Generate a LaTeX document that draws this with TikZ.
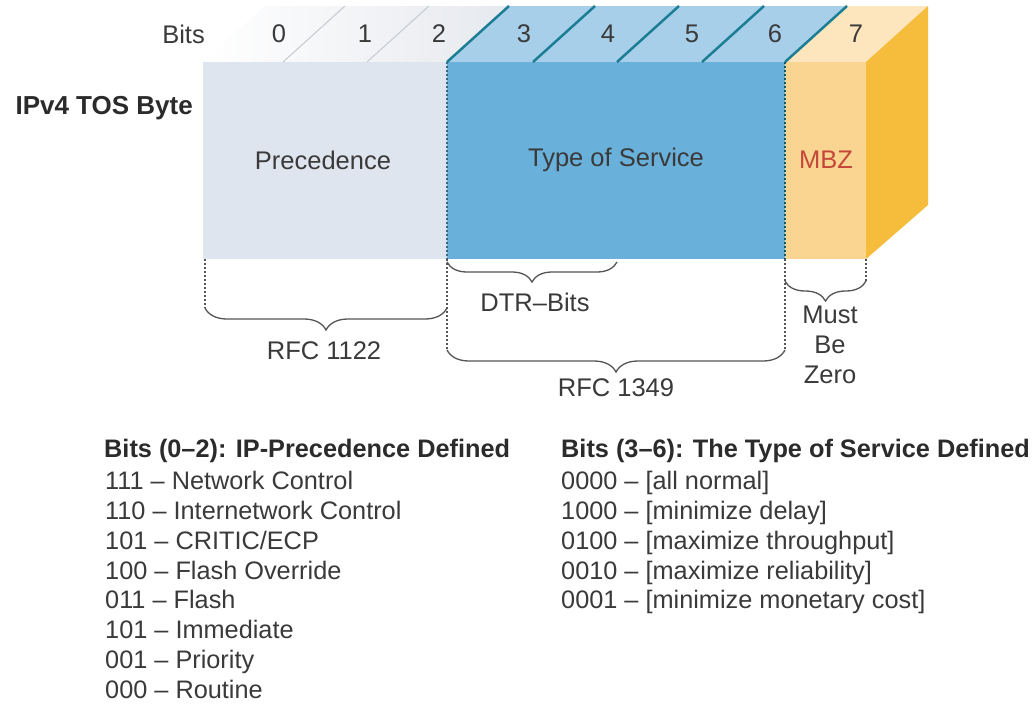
\documentclass[tikz,border=0pt]{standalone}
\usepackage{fontspec}
\setmainfont{Liberation Sans}
\usetikzlibrary{decorations.pathreplacing}
\definecolor{txt}{HTML}{3A3A3A}
\definecolor{hdr}{HTML}{2B2B2B}
\definecolor{topgray}{HTML}{E6E9EE}
\definecolor{frontgray}{HTML}{DFE5EE}
\definecolor{topblue}{HTML}{A8CFE9}
\definecolor{frontblue}{HTML}{69B0DA}
\definecolor{teal}{HTML}{1B7E95}
\definecolor{toporange}{HTML}{FDE5BD}
\definecolor{frontorange}{HTML}{F9D591}
\definecolor{sideorange}{HTML}{F6BC3C}
\definecolor{mbzred}{HTML}{C4473A}
\definecolor{divgray}{HTML}{C5CAD1}
\definecolor{bracegray}{HTML}{555555}
\begin{document}
\begin{tikzpicture}[x=1pt,y=-1pt,
  lbl/.style={font=\fontsize{25.5}{30}\selectfont, text=txt, inner sep=0pt},
  hd/.style={font=\fontsize{25.3}{30}\selectfont\bfseries, text=hdr, inner sep=0pt, anchor=base west},
  item/.style={font=\fontsize{25.3}{30}\selectfont, text=txt, inner sep=0pt, anchor=base west},
  dots/.style={bracegray, line width=1.6pt, dash pattern=on 2pt off 2pt},
  bracedraw/.style={bracegray, line width=1.3pt, decorate, decoration={brace, mirror, amplitude=#1}},
  tealdiv/.style={teal, line width=2.5pt},
  graydiv/.style={divgray, line width=1pt}
]
\useasboundingbox (0,0) rectangle (1035,704);
\fill[white] (0,0) rectangle (1035,704);
% key coordinates
\coordinate (f0) at (203,62);
\coordinate (f3) at (447,62);
\coordinate (f7) at (785,62);
\coordinate (f8) at (866,62);
% top faces
\shade[left color=white, right color=topgray] (203,62) -- (447,62) -- (509,6) -- (265,6) -- cycle;
\fill[topblue] (447,62) -- (785,62) -- (847,6) -- (509,6) -- cycle;
\fill[toporange] (785,62) -- (866,62) -- (928,6) -- (847,6) -- cycle;
% side face
\fill[sideorange] (866,62) -- (928,6) -- (928,205) -- (866,259) -- cycle;
% front faces
\fill[frontgray] (203,62) rectangle (447,259);
\fill[frontblue] (447,62) rectangle (785,259);
\fill[frontorange] (785,62) rectangle (866,259);
% top dividers
\draw[graydiv] (283,62) -- (345,6);
\draw[graydiv] (367,62) -- (429,6);
\foreach \x in {447,533,617,702,785} \draw[tealdiv] (\x,62) -- ({\x+62},6);
% dotted separators on face
\draw[line width=1.8pt, dash pattern=on 2pt off 2pt, color={rgb,255:red,60;green,105;blue,135}] (447,62) -- (447,259);
\draw[line width=2.2pt, dash pattern=on 2pt off 2pt, color={rgb,255:red,15;green,90;blue,110}] (785,62) -- (785,259);
% dotted leaders below
\draw[dots] (205,259) -- (205,308);
\draw[dots] (447,259) -- (447,350);
\draw[dots] (785,259) -- (785,350);
\draw[dots] (866,259) -- (866,281);
% braces
\draw[bracedraw=22pt] (205,308) -- (447,308);
\draw[bracedraw=20pt] (447,262) -- (617,262);
\draw[bracedraw=22pt] (447,350) -- (785,350);
\draw[bracedraw=20pt] (785,281) -- (866,281);
% bit labels
\node[lbl, anchor=east] (bits) at (205,34) {Bits};
\node[lbl] (b0) at (279,34) {0};
\node[lbl] (b1) at (365,34) {1};
\node[lbl] (b2) at (439,34) {2};
\node[lbl] (b3) at (524,34) {3};
\node[lbl] (b4) at (608,34) {4};
\node[lbl] (b5) at (692,34) {5};
\node[lbl] (b6) at (775,34) {6};
\node[lbl] (b7) at (856,34) {7};
\node[lbl, font=\fontsize{26}{30}\selectfont\bfseries, text=hdr, anchor=east] (tos) at (193,108) {IPv4 TOS Byte};
\node[lbl] (prec) at (323,160) {Precedence};
\node[lbl] (tserv) at (616,160) {Type of Service};
\node[lbl, text=mbzred] (mbz) at (826,160) {MBZ};
\node[lbl] (dtr) at (535,302) {DTR–Bits};
\node[lbl] (rfc1) at (324,351) {RFC 1122};
\node[lbl] (rfc2) at (616,388) {RFC 1349};
\node[lbl] (must) at (830,315) {Must};
\node[lbl] (be) at (830,345) {Be};
\node[lbl] (zero) at (830,375) {Zero};
% bottom lists
\node[hd] (lh) at (104,457) {Bits (0–2): IP-Precedence Defined};
\node[item] (l1) at (105,489) {111 – Network Control};
\node[item] (l2) at (105,519) {110 – Internetwork Control};
\node[item] (l3) at (105,549) {101 – CRITIC/ECP};
\node[item] (l4) at (105,579) {100 – Flash Override};
\node[item] (l5) at (105,608.5) {011 – Flash};
\node[item] (l6) at (105,638.5) {101 – Immediate};
\node[item] (l7) at (105,668) {001 – Priority};
\node[item] (l8) at (105,698) {000 – Routine};
\node[hd] (rh) at (561,457) {Bits (3–6): The Type of Service Defined};
\node[item] (r1) at (561,489) {0000 – [all normal]};
\node[item] (r2) at (561,519) {1000 – [minimize delay]};
\node[item] (r3) at (561,549) {0100 – [maximize throughput]};
\node[item] (r4) at (561,579) {0010 – [maximize reliability]};
\node[item] (r5) at (561,608.5) {0001 – [minimize monetary cost]};
\end{tikzpicture}
\end{document}
